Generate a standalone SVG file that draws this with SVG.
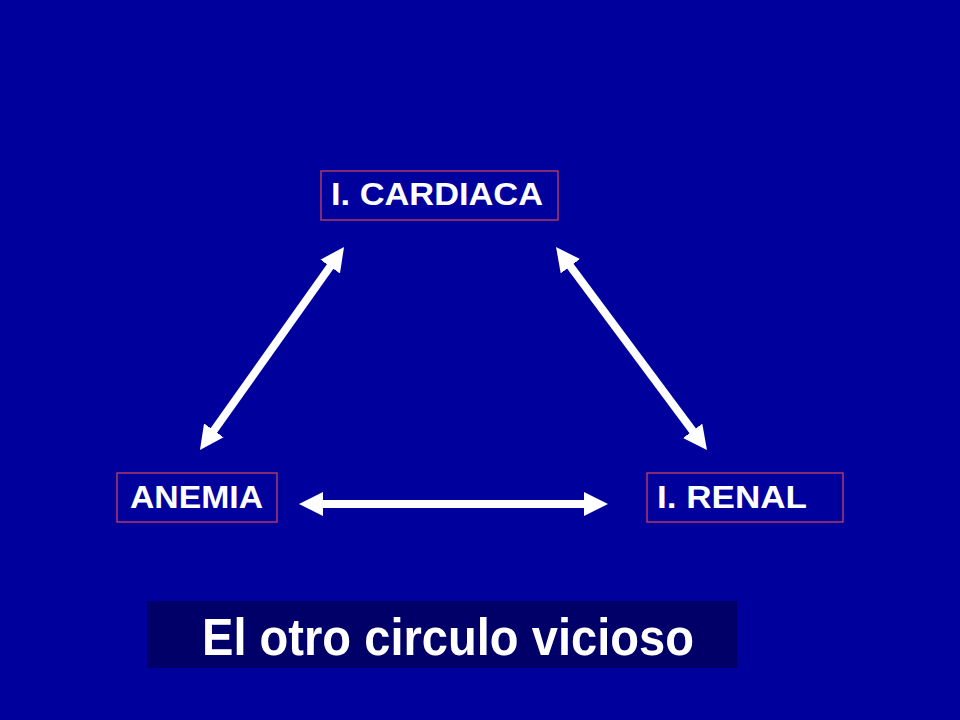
<svg xmlns="http://www.w3.org/2000/svg" width="960" height="720" viewBox="0 0 960 720">
  <style>
    .box { fill: none; stroke: #C8405E; stroke-width: 1.3; }
    .lbl { font-family: "Liberation Sans", Arial, sans-serif; font-weight: bold; font-size: 31px; fill: #FFFFFF; }
    .title { font-family: "Liberation Sans", Arial, sans-serif; font-weight: bold; font-size: 52px; fill: #FFFFFF; }
    .arrow { stroke: #FFFFFF; stroke-width: 8; fill: none; marker-start: url(#head); marker-end: url(#head); }
  </style>
  <defs>
    <marker id="head" viewBox="0 0 10 10" refX="5" refY="5" markerWidth="3" markerHeight="3" orient="auto-start-reverse" markerUnits="strokeWidth">
      <path d="M0,0 L10,5 L0,10 Z" fill="#FFFFFF"/>
    </marker>
  </defs>
  <rect x="0" y="0" width="960" height="720" fill="#00009C"/>

  <g id="connectors">
    <line class="arrow" x1="337.1" y1="256.8" x2="206.9" y2="440.2"/>
    <line class="arrow" x1="563.2" y1="256.6" x2="699.8" y2="440.4"/>
    <line class="arrow" x1="311" y1="504" x2="596" y2="504"/>
  </g>

  <g id="node-cardiaca">
    <rect class="box" x="321" y="171" width="237" height="49"/>
    <text class="lbl" x="331" y="205" textLength="212" lengthAdjust="spacingAndGlyphs">I. CARDIACA</text>
  </g>
  <g id="node-anemia">
    <rect class="box" x="117" y="473" width="160" height="49"/>
    <text class="lbl" x="130" y="508" textLength="133" lengthAdjust="spacingAndGlyphs">ANEMIA</text>
  </g>
  <g id="node-renal">
    <rect class="box" x="647" y="473" width="196" height="49"/>
    <text class="lbl" x="657" y="508" textLength="150" lengthAdjust="spacingAndGlyphs">I. RENAL</text>
  </g>
  <g id="title">
    <rect x="147" y="601" width="590" height="67" fill="#000068"/>
    <text class="title" x="202" y="655" textLength="492" lengthAdjust="spacingAndGlyphs">El otro circulo vicioso</text>
  </g>
</svg>
